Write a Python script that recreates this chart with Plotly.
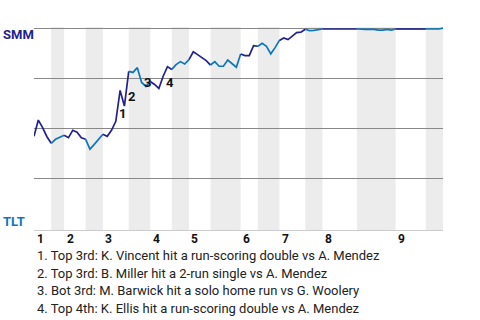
import plotly.graph_objects as go

# ---- data ----
half_starts = [0, 4, 7, 12, 16, 22, 27, 32, 36, 41, 48, 52, 57, 63, 67, 75, 84, 91, 95]
inning_labels = ["1", "2", "3", "4", "5", "6", "7", "8", "9"]
wp_smm = [
    0.460, 0.541, 0.503, 0.458, 0.425, 0.445, 0.455, 0.465, 0.453, 0.490,
    0.480, 0.453, 0.445, 0.396, 0.420, 0.445, 0.470, 0.460, 0.490, 0.535,
    0.689, 0.611, 0.784, 0.779, 0.803, 0.729, 0.709, 0.734, 0.719, 0.699,
    0.760, 0.808, 0.794, 0.818, 0.833, 0.821, 0.843, 0.882, 0.868, 0.851,
    0.838, 0.816, 0.833, 0.810, 0.810, 0.841, 0.821, 0.805, 0.871, 0.863,
    0.863, 0.913, 0.910, 0.925, 0.910, 0.872, 0.903, 0.939, 0.951, 0.943,
    0.963, 0.978, 0.980, 0.995, 0.988, 0.989, 0.993, 0.996, 0.996, 0.996,
    0.996, 0.996, 0.996, 0.996, 0.996, 0.996, 0.994, 0.994, 0.994, 0.994,
    0.990, 0.990, 0.994, 0.990, 0.996, 0.996, 0.996, 0.996, 0.996, 0.996,
    0.996, 0.996, 0.996, 0.996, 0.996, 1.000,
]
key_event_index = [21, 22, 25, 31]
key_event_label = ["1", "2", "3", "4"]
key_event_text = [
    "1. Top 3rd: K. Vincent hit a run-scoring double vs A. Mendez",
    "2. Top 3rd: B. Miller hit a 2-run single vs A. Mendez",
    "3. Bot 3rd: M. Barwick hit a solo home run vs G. Woolery",
    "4. Top 4th: K. Ellis hit a run-scoring double vs A. Mendez",
]
team_top = "SMM"
team_bottom = "TLT"

# ---- style ----
NAVY = "#22228f"
BLUE = "#0a76bf"
SHADE = "#ececec"
FONT = "Roboto"

fig = go.Figure()

# shaded bottom halves
for h in range(1, len(half_starts) - 1, 2):
    fig.add_shape(type="rect", xref="x", yref="paper",
                  x0=half_starts[h], x1=half_starts[h + 1], y0=0, y1=1,
                  fillcolor=SHADE, line_width=0, layer="below")

# line segments per half inning
for h in range(len(half_starts) - 1):
    a, b = half_starts[h], half_starts[h + 1]
    xs = list(range(a, b + 1))
    ys = wp_smm[a:b + 1]
    fig.add_trace(go.Scatter(x=xs, y=ys, mode="lines",
                             line=dict(color=NAVY if h % 2 == 0 else BLUE, width=1.7),
                             hoverinfo="skip", showlegend=False, cliponaxis=False))

# key event labels
shifts = [(-1.7, -7), (2.3, -25), (5.4, 0), (2.8, -16)]
for idx, lab, (dx, dy) in zip(key_event_index, key_event_label, shifts):
    fig.add_annotation(x=idx, y=wp_smm[idx], text=f"<b>{lab}</b>", showarrow=False,
                       xshift=dx, yshift=dy, font=dict(family=FONT, size=13, color="#111"))

# inning labels
for k, lab in enumerate(inning_labels):
    fig.add_annotation(x=half_starts[2 * k], y=0, yref="paper", text=f"<b>{lab}</b>",
                       showarrow=False, xanchor="left", yanchor="middle",
                       xshift=0.5, yshift=-9, font=dict(family=FONT, size=12, color="#111"))

# team labels
fig.add_annotation(x=0, y=1, xref="paper", yref="paper", text=f"<b>{team_top}</b>",
                   showarrow=False, xanchor="left", yanchor="middle", xshift=-33, yshift=-7,
                   font=dict(family=FONT, size=13, color=NAVY))
fig.add_annotation(x=0, y=0, xref="paper", yref="paper", text=f"<b>{team_bottom}</b>",
                   showarrow=False, xanchor="left", yanchor="middle", xshift=-33, yshift=9,
                   font=dict(family=FONT, size=13, color=BLUE))

# key event descriptions
for k, txt in enumerate(key_event_text):
    fig.add_annotation(x=0, y=0, xref="paper", yref="paper", text=txt, showarrow=False,
                       xanchor="left", yanchor="middle", xshift=1, yshift=-25.5 - 17.7 * k,
                       font=dict(family=FONT, size=13, color="#222"))

fig.update_xaxes(range=[0, 95], showgrid=False, zeroline=False, showticklabels=False,
                 showline=True, linecolor="#cccccc", linewidth=1, ticks="")
fig.update_yaxes(range=[-0.008, 1.006], tickvals=[0.25, 0.5, 0.75, 1.0], showgrid=True,
                 gridcolor="#888888", gridwidth=1, zeroline=False, showticklabels=False,
                 showline=False, ticks="")
fig.update_layout(width=480, height=320, margin=dict(l=34, r=37, t=27, b=90),
                  paper_bgcolor="white", plot_bgcolor="white", showlegend=False,
                  font=dict(family=FONT))

fig.write_html("out.html")
